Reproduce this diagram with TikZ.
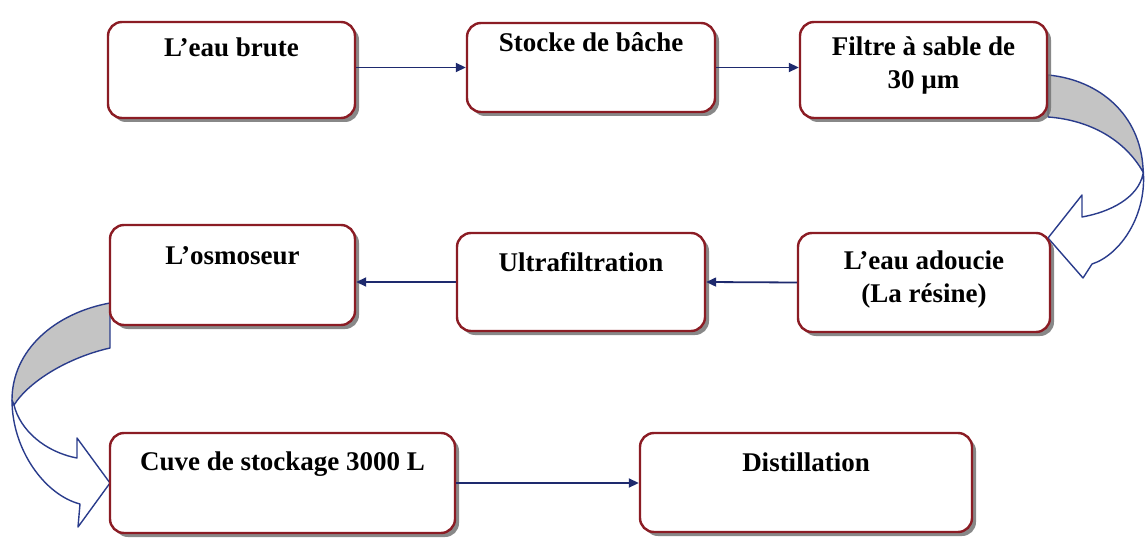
\documentclass[tikz,border=0pt]{standalone}
\usepackage{fontspec}
\setmainfont{Liberation Serif}
\usetikzlibrary{arrows.meta,shadows,calc}
\definecolor{boxred}{HTML}{8B1C24}
\definecolor{navy}{HTML}{1E2A6E}
\definecolor{arrowgrey}{HTML}{C4C4C4}
\definecolor{bandblue}{HTML}{2A3C8C}
\begin{document}
\begin{tikzpicture}[x=1pt,y=-1pt,
 box/.style={draw=boxred,line width=2.4pt,fill=white,rounded corners=14pt,inner sep=0pt,
   drop shadow={shadow xshift=4pt,shadow yshift=-4pt,fill=black!55,opacity=0.85}},
 lbl/.style={font=\fontsize{27}{33}\selectfont\bfseries,align=center,inner sep=0pt},
 conn/.style={draw=navy,line width=1.8pt,-{Triangle[length=10pt,width=9pt]}},
 band/.style={draw=bandblue,line width=1.4pt,line join=round}]
\useasboundingbox (0,0) rectangle (1145,540);

% curved block arrows
\filldraw[band,fill=white] (1143,168) .. controls (1148,215) and (1120,255) .. (1092,264)
  -- (1083,278) -- (1048,238) -- (1082,195) -- (1082,217)
  .. controls (1110,212) and (1138,198) .. (1143,174) -- cycle;
\filldraw[band,fill=arrowgrey] (1048,75) .. controls (1100,80) and (1140,115) .. (1143,168)
  -- (1143,172) .. controls (1125,140) and (1090,120) .. (1048,117) -- cycle;

\filldraw[band,fill=white] (12,400) .. controls (12,450) and (45,495) .. (80,504)
  -- (78,527) -- (110,483) -- (77,438) -- (77,458)
  .. controls (45,452) and (20,430) .. (14,405) -- cycle;
\filldraw[band,fill=arrowgrey] (110,303) .. controls (55,313) and (12,350) .. (12,400)
  -- (14,405) .. controls (30,380) and (70,357) .. (110,348) -- cycle;

% boxes
\node[box,minimum width=247pt,minimum height=96pt] (b1) at (231.5,70) {};
\node[box,minimum width=248pt,minimum height=89pt] (b2) at (591,67.5) {};
\node[box,minimum width=247pt,minimum height=96pt] (b3) at (923.5,70) {};
\node[box,minimum width=252pt,minimum height=99pt] (b4) at (924,282.5) {};
\node[box,minimum width=248pt,minimum height=98pt] (b5) at (581,282) {};
\node[box,minimum width=245pt,minimum height=100pt] (b6) at (232.5,275) {};
\node[box,minimum width=345pt,minimum height=100pt] (b7) at (282.5,483) {};
\node[box,minimum width=332pt,minimum height=99pt] (b8) at (806,482.5) {};

% labels
\node[lbl] (t1) at ([yshift=-26pt]b1.north) {L’eau brute};
\node[lbl] (t2) at ([yshift=-20pt]b2.north) {Stocke de bâche};
\node[lbl] (t3) at ([yshift=-45pt]b3.north) {Filtre à sable de\\30 µm};
\node[lbl] (t4) at ([yshift=-48pt]b4.north) {L’eau adoucie\\(La résine)};
\node[lbl] (t5) at ([yshift=-30pt]b5.north) {Ultrafiltration};
\node[lbl] (t6) at ([yshift=-32pt]b6.north) {L’osmoseur};
\node[lbl] (t7) at ([yshift=-32pt]b7.north) {Cuve de stockage 3000 L};
\node[lbl] (t8) at ([yshift=-30pt]b8.north) {Distillation};

% connectors
\draw[conn] (b1.east |- b2.west) -- (b2.west);
\draw[conn] (b2.east) -- (b3.west |- b2.east);
\draw[conn] (b4.west) -- (b5.east);
\draw[conn] (b5.west) -- (b6.east |- b5.west);
\draw[conn] (b7.east) -- (b8.west |- b7.east);
\end{tikzpicture}
\end{document}
